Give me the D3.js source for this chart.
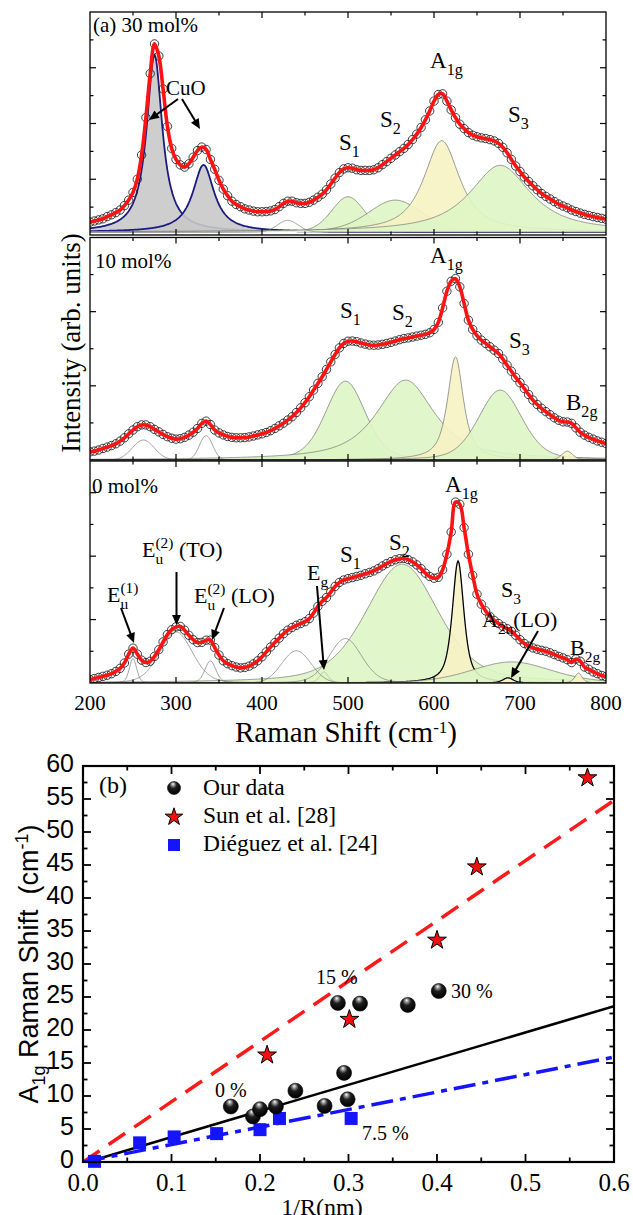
<!DOCTYPE html>
<html><head><meta charset="utf-8">
<script src="https://cdn.jsdelivr.net/npm/d3@7/dist/d3.min.js"></script>
<style>
body{margin:0;background:#fff;}
svg{display:block;}
</style></head><body>
<svg id="chart" width="633" height="1215"></svg>
<script>
// ---------------- DATA ----------------
const ramanShift = d3.range(200, 801, 5);
const ramanTicks = [200, 300, 400, 500, 600, 700, 800];

const int30 = [
 4.5,5.0,5.5,6.0,7.0,7.8,8.8,10,12,14.5,
 18,24,35,52,72,85.5,80,65,48,38,
 33,30.5,29.5,31,34,37,38.6,37.5,33,28.5,
 23.5,19.5,16.5,14,12.5,11.5,10.5,10,9.5,9.2,
 9.2,9.3,9.6,10.2,11.5,13,14,14,13.3,13,
 13,13.5,14.5,15.8,17.2,19.2,21.8,24.5,27,28.7,
 29.2,29,28.3,28,28,28,28.3,29.2,30.6,32,
 33.5,35,36.5,38,39.8,42,44.5,47.5,51,55,
 59.5,62.5,62.8,59.5,55.5,52,49,47,45.2,44,
 43.3,42.8,42.5,42,41.4,40.3,38.5,36,33,30,
 27.5,25,23,21,19.2,17.5,16.2,15,13.8,12.7,
 11.8,11,10,9.3,8.6,8,7.5,7,6.6,6.2,
 5.8];
const int10 = [
 3.7,4.0,4.5,5.2,5.8,6.5,7.3,8.5,10,11.8,
 13.5,15,15.8,15.8,15,13.8,12.7,11.5,10.5,9.8,
 9.4,9.6,10.2,11.2,12.5,14.2,16.5,17.5,16,13.5,
 12.2,11.3,10.6,10.2,10,10,10.1,10.4,10.8,11.3,
 11.8,12.4,13.2,14.2,15.4,16.6,18,19.5,21.4,23.5,
 25.8,28.5,31.5,34.5,37.5,40.8,44.2,47.5,50.5,52.5,
 53.5,53.6,53.3,52.7,52.2,51.8,51.7,51.8,52.1,52.5,
 53,53.6,54.2,54.7,55,55.4,55.8,56.2,56.6,57.3,
 58.8,62,68.5,76,80.5,81.7,78,70.5,63,58.8,
 56,54,52.5,51,49.5,48,45.5,42.7,40,37.2,
 34.8,32.2,29.5,27,25,23.3,21.8,20.4,19,17.9,
 17.2,17.1,16.5,14.5,12.5,11.2,10.2,9.4,8.6,8,
 7.4];
const int0 = [
 1.5,2,2.5,3,3.5,4.2,5.2,6.6,9,13,
 15.7,13,10.3,9.2,9.8,12,15,18.5,21.8,24,
 25.3,25.5,23.8,21.5,19.5,18.2,18.3,19.3,19.3,16,
 12.6,10,8.7,7.8,7.2,6.8,7,7.6,8.6,10,
 11.8,14,16.2,18.2,20.2,22.2,23.8,25,26,26.8,
 27.6,29,31.5,34.5,36.8,38.5,41,43.5,45.3,46.4,
 47,47.5,48,48.5,49.2,49.8,50.5,51.5,52.7,53.8,
 54.7,55.5,56,56.1,55.6,54.6,53.2,51.5,49.5,48,
 47.2,47.6,51,58,68,81.5,80.5,70,58,48.5,
 40,35.5,32.5,30,28.2,26.8,25.5,24.5,23.3,21.5,
 19.5,17.8,16.6,15.8,15.2,14.7,14.3,13.6,12.8,12,
 11.3,10.5,9.2,10.8,9.8,7.2,6.2,5,4.2,3.4,
 2.9];

// fitted components (centre, height, FWHM, Lorentzian fraction, kind)
const peak30Center = [275, 332, 430, 500, 555, 609, 677];
const peak30Height = [80.5, 30.5, 5.3, 16, 14.5, 41.5, 30.3];
const peak30Fwhm   = [22, 30, 28, 45, 75, 50, 85];
const peak30Lor    = [1, 1, 0, 0.2, 0.3, 0.85, 0.9];
const peak30Kind   = ['CuO','CuO','line','S','S','A','S'];

const peak10Center = [262, 335, 497, 567, 625, 677, 755];
const peak10Height = [9, 11, 35.5, 36, 46.5, 31.5, 4];
const peak10Fwhm   = [30, 18, 55, 80, 22, 60, 15];
const peak10Lor    = [0, 0, 0.3, 0.8, 0.8, 0.3, 0.3];
const peak10Kind   = ['line','line','S','S','A','S','A'];

const peak0Center = [250, 300, 340, 440, 472, 497, 563, 628, 690, 686, 768];
const peak0Height = [11, 23, 10, 14.5, 5, 20, 53.5, 55, 9.5, 2.3, 4.5];
const peak0Fwhm   = [10, 45, 15, 40, 12, 45, 100, 16, 110, 15, 10];
const peak0Lor    = [0.3, 0.2, 0.3, 0, 0.6, 0.2, 0.4, 0.7, 0.3, 0.5, 0.5];
const peak0Kind   = ['line','line','line','line','Adark','line','S','Adark','S','Adark','A'];

// panel (b)
const ourX = [0.167, 0.192, 0.2, 0.218, 0.24, 0.273, 0.295, 0.299, 0.288, 0.313, 0.367, 0.402];
const ourY = [8.4, 6.9, 8.0, 8.4, 10.8, 8.5, 13.5, 9.5, 24.1, 24.0, 23.8, 25.9];
const sunX = [0.208, 0.301, 0.400, 0.445, 0.570];
const sunY = [16.2, 21.6, 33.6, 44.7, 58.2];
const diegX = [0.013, 0.064, 0.103, 0.151, 0.2, 0.222, 0.303];
const diegY = [0.1, 2.9, 3.8, 4.3, 4.9, 6.6, 6.6];
const fitX = [0, 0.6];
const sunFitY = [0, 54.8];
const ourFitY = [-0.2, 23.6];
const diegFitY = [0, 15.9];
const bTicksX = [0, 0.1, 0.2, 0.3, 0.4, 0.5, 0.6];
const bTicksY = [0, 5, 10, 15, 20, 25, 30, 35, 40, 45, 50, 55, 60];

// ---------------- DRAW ----------------
const SERIF = '"Liberation Serif","Times New Roman",Times,"DejaVu Serif",serif';
const SANS = '"Liberation Sans",Arial,Helvetica,sans-serif';
const svg = d3.select('#chart').attr('font-family', SERIF).style('font-family', SERIF);
const defs = svg.append('defs');
defs.append('marker').attr('id','arr').attr('viewBox','0 0 10 10')
  .attr('refX',10).attr('refY',5).attr('markerWidth',11).attr('markerHeight',10)
  .attr('markerUnits','userSpaceOnUse').attr('orient','auto')
  .append('path').attr('d','M0,0.5 L10,5 L0,9.5 Z').attr('fill','#000');
const rg = defs.append('radialGradient').attr('id','ball')
  .attr('cx','0.45').attr('cy','0.35').attr('r','0.62').attr('fx','0.42').attr('fy','0.18');
rg.append('stop').attr('offset','0').attr('stop-color','#ffffff');
rg.append('stop').attr('offset','0.18').attr('stop-color','#9a9a9a');
rg.append('stop').attr('offset','0.45').attr('stop-color','#1e1e1e');
rg.append('stop').attr('offset','1').attr('stop-color','#000');

const x = d3.scaleLinear().domain([200, 800]).range([90, 606]);
const panels = [
  {v:int30, c:peak30Center, h:peak30Height, w:peak30Fwhm, l:peak30Lor, k:peak30Kind, top:12, bottom:235, y0:232, y1:12, div:8},
  {v:int10, c:peak10Center, h:peak10Height, w:peak10Fwhm, l:peak10Lor, k:peak10Kind, top:237.5, bottom:460, y0:460, y1:238, div:6},
  {v:int0,  c:peak0Center,  h:peak0Height,  w:peak0Fwhm,  l:peak0Lor,  k:peak0Kind,  top:461, bottom:683, y0:683, y1:461, div:7}
];
const fillOf = {CuO:'#c9c9c9', S:'#def5c4', A:'#f7f3c4', Adark:'#f7f3c4', line:'none'};
const strokeOf = {CuO:'#1c1c80', S:'#707070', A:'#707070', Adark:'#000', line:'#7a7a7a'};
const strokeWOf = {CuO:1.8, S:0.7, A:0.7, Adark:1.3, line:0.7};
function pv(xv, c, h, w, eta) {
  const d = (xv - c) / (w / 2);
  return h * (eta / (1 + d * d) + (1 - eta) * Math.exp(-Math.LN2 * d * d));
}
const grid = d3.range(200, 800.5, 1);

panels.forEach((p, i) => {
  const y = d3.scaleLinear().domain([0, 100]).range([p.y0, p.y1]);
  const cid = 'clip' + i;
  defs.append('clipPath').attr('id', cid).append('rect')
    .attr('x', 90).attr('y', p.top).attr('width', 516).attr('height', p.bottom - p.top);
  const g = svg.append('g').attr('clip-path', `url(#${cid})`);
  const order = p.c.map((_, j) => j).sort((a, b) => (p.k[a] === 'line') - (p.k[b] === 'line') || a - b);
  order.forEach(j => {
    const pts = grid.map(xv => [xv, pv(xv, p.c[j], p.h[j], p.w[j], p.l[j])]);
    const kind = p.k[j];
    if (kind !== 'line') {
      g.append('path').datum(pts)
        .attr('d', d3.area().x(d => x(d[0])).y0(y(0)).y1(d => y(d[1])))
        .attr('fill', fillOf[kind]).attr('fill-opacity', 0.9);
    }
    g.append('path').datum(pts)
      .attr('d', d3.line().x(d => x(d[0])).y(d => y(d[1])))
      .attr('fill', 'none').attr('stroke', strokeOf[kind]).attr('stroke-width', strokeWOf[kind]);
  });
  g.append('g').selectAll('circle').data(p.v).join('circle')
    .attr('cx', (d, k) => x(ramanShift[k])).attr('cy', d => y(d)).attr('r', 4.2)
    .attr('fill', 'none').attr('stroke', '#1e1e1e').attr('stroke-width', 0.85);
  g.append('path').datum(p.v)
    .attr('d', d3.line().x((d, k) => x(ramanShift[k])).y(d => y(d)).curve(d3.curveCatmullRom))
    .attr('fill', 'none').attr('stroke', '#ff1212').attr('stroke-width', 3.6);

  // frame + ticks
  svg.append('rect').attr('x', 90).attr('y', p.top).attr('width', 516).attr('height', p.bottom - p.top)
    .attr('fill', 'none').attr('stroke', '#000').attr('stroke-width', 1.3);
  const tg = svg.append('g').attr('stroke', '#000').attr('stroke-width', 1.2);
  d3.range(250, 800, 50).forEach(t => {
    const len = t % 100 === 0 ? 6 : 3.5;
    tg.append('line').attr('x1', x(t)).attr('x2', x(t)).attr('y1', p.bottom).attr('y2', p.bottom - len);
    tg.append('line').attr('x1', x(t)).attr('x2', x(t)).attr('y1', p.top).attr('y2', p.top + len);
  });
  const yt = d3.scaleLinear().domain([0, p.div]).range([p.bottom, p.top]);
  d3.range(1, p.div).forEach(t => {
    const len = t % 2 === 0 ? 6 : 3.5;
    tg.append('line').attr('x1', 90).attr('x2', 90 + len).attr('y1', yt(t)).attr('y2', yt(t));
    tg.append('line').attr('x1', 606).attr('x2', 606 - len).attr('y1', yt(t)).attr('y2', yt(t));
  });
});

// x tick labels (a)
svg.append('g').selectAll('text').data(ramanTicks).join('text')
  .attr('x', d => x(d)).attr('y', 710).attr('text-anchor', 'middle').attr('font-size', 21).text(d => d);
// axis titles (a)
const xt = svg.append('text').attr('x', 346).attr('y', 742).attr('text-anchor', 'middle').attr('font-size', 29);
xt.append('tspan').text('Raman Shift (cm');
xt.append('tspan').attr('font-size', 17).attr('dy', -9).text('-1');
xt.append('tspan').attr('dy', 9).text(')');
svg.append('text').attr('transform', 'translate(80,343) rotate(-90)').attr('text-anchor', 'middle')
  .attr('font-size', 27).text('Intensity (arb. units)');

// rich labels
function richText(x0, y0, segs, fs) {
  const g = svg.append('g');
  let cx = x0;
  const small = fs * 0.7;
  segs.forEach(s => {
    if (typeof s === 'string') {
      const t = g.append('text').attr('x', cx).attr('y', y0).attr('font-size', fs).text(s);
      cx += t.node().getComputedTextLength();
    } else {
      let w = 0;
      if (s.sub != null) {
        const t = g.append('text').attr('x', cx).attr('y', y0 + fs * 0.3).attr('font-size', small).text(s.sub);
        w = Math.max(w, t.node().getComputedTextLength());
      }
      if (s.sup != null) {
        const t = g.append('text').attr('x', cx).attr('y', y0 - fs * 0.42).attr('font-size', small).text(s.sup);
        w = Math.max(w, t.node().getComputedTextLength());
      }
      cx += w;
    }
  });
}
function arrow(x1, y1, x2, y2) {
  const dx = x2 - x1, dy = y2 - y1, L = Math.hypot(dx, dy);
  svg.append('line').attr('x1', x1).attr('y1', y1)
    .attr('x2', x2 - dx / L * 6).attr('y2', y2 - dy / L * 6)
    .attr('stroke', '#000').attr('stroke-width', 2);
  svg.append('line').attr('x1', x2 - dx / L * 7).attr('y1', y2 - dy / L * 7).attr('x2', x2).attr('y2', y2)
    .attr('stroke', 'none').attr('marker-end', 'url(#arr)');
}

// top panel
richText(93, 32, ['(a) 30 mol%'], 21);
richText(166, 95, ['CuO'], 21);
arrow(178, 99, 149, 120);
arrow(182, 99, 200, 129);
richText(339, 150, ['S', {sub: '1'}], 23);
richText(380, 127, ['S', {sub: '2'}], 23);
richText(430, 68, ['A', {sub: '1g'}], 23);
richText(508, 122, ['S', {sub: '3'}], 23);
// middle panel
richText(95, 268, ['10 mol%'], 21);
richText(340, 318, ['S', {sub: '1'}], 23);
richText(392, 320, ['S', {sub: '2'}], 23);
richText(430, 263, ['A', {sub: '1g'}], 23);
richText(509, 348, ['S', {sub: '3'}], 23);
richText(566, 410, ['B', {sub: '2g'}], 23);
// bottom panel
richText(92, 493, ['0 mol%'], 21);
richText(445, 492, ['A', {sub: '1g'}], 23);
richText(389, 550, ['S', {sub: '2'}], 23);
richText(340, 562, ['S', {sub: '1'}], 23);
richText(142, 557, ['E', {sub: 'u', sup: '(2)'}, '\u00a0(TO)'], 22);
richText(107, 602, ['E', {sub: 'u', sup: '(1)'}], 22);
richText(194, 603, ['E', {sub: 'u', sup: '(2)'}, '\u00a0(LO)'], 22);
richText(307, 580, ['E', {sub: 'g'}], 22);
richText(501, 597, ['S', {sub: '3'}], 22);
richText(482, 627, ['A', {sub: '2u'}, '(LO)'], 22);
richText(570, 655, ['B', {sub: '2g'}], 22);
arrow(121, 608, 134, 643);
arrow(176.5, 572, 176.5, 625);
arrow(224, 608, 212, 640);
arrow(317, 586, 324, 670);
arrow(538, 631, 511, 678);

// ---------------- PANEL (b) ----------------
const xb = d3.scaleLinear().domain([0, 0.6]).range([83, 614]);
const yb = d3.scaleLinear().domain([0, 60]).range([1162, 766]);
defs.append('clipPath').attr('id', 'clipb').append('rect')
  .attr('x', 83).attr('y', 766).attr('width', 531).attr('height', 396);
const gb = svg.append('g').attr('clip-path', 'url(#clipb)');
const fitLine = d3.line().x((d, k) => xb(fitX[k])).y(d => yb(d));
gb.append('path').datum(sunFitY).attr('d', fitLine).attr('fill', 'none')
  .attr('stroke', '#ff1a1a').attr('stroke-width', 3.5).attr('stroke-dasharray', '20,11');
gb.append('path').datum(ourFitY).attr('d', fitLine).attr('fill', 'none')
  .attr('stroke', '#000').attr('stroke-width', 2.6);
gb.append('path').datum(diegFitY).attr('d', fitLine).attr('fill', 'none')
  .attr('stroke', '#1414ff').attr('stroke-width', 3.5).attr('stroke-dasharray', '22,7,6,7');

const mk = svg.append('g');
mk.selectAll('rect.sq').data(diegX).join('rect').attr('class', 'sq')
  .attr('x', (d) => xb(d) - 6.5).attr('y', (d, k) => yb(diegY[k]) - 6.5)
  .attr('width', 13).attr('height', 13).attr('fill', '#1414ff');
mk.selectAll('circle.ball').data(ourX).join('circle').attr('class', 'ball')
  .attr('cx', d => xb(d)).attr('cy', (d, k) => yb(ourY[k])).attr('r', 7.5)
  .attr('fill', 'url(#ball)').attr('stroke', '#000').attr('stroke-width', 0.6);
const star = d3.symbol().type(d3.symbolStar).size(110);
mk.selectAll('path.star').data(sunX).join('path').attr('class', 'star')
  .attr('transform', (d, k) => `translate(${xb(d)},${yb(sunY[k])})`)
  .attr('d', star).attr('fill', '#f21010').attr('stroke', '#000').attr('stroke-width', 1);

// frame and ticks (b)
svg.append('rect').attr('x', 83).attr('y', 766).attr('width', 531).attr('height', 396)
  .attr('fill', 'none').attr('stroke', '#000').attr('stroke-width', 2.2);
const tb = svg.append('g').attr('stroke', '#000').attr('stroke-width', 1.8);
d3.range(1, 12).forEach(i => {
  const v = i * 0.05, len = i % 2 === 0 ? 8 : 4.5;
  tb.append('line').attr('x1', xb(v)).attr('x2', xb(v)).attr('y1', 1162).attr('y2', 1162 - len);
  tb.append('line').attr('x1', xb(v)).attr('x2', xb(v)).attr('y1', 766).attr('y2', 766 + len);
});
d3.range(1, 24).forEach(i => {
  const v = i * 2.5, len = i % 2 === 0 ? 8 : 4.5;
  tb.append('line').attr('x1', 83).attr('x2', 83 + len).attr('y1', yb(v)).attr('y2', yb(v));
  tb.append('line').attr('x1', 614).attr('x2', 614 - len).attr('y1', yb(v)).attr('y2', yb(v));
});
svg.append('g').selectAll('text').data(bTicksX).join('text')
  .attr('x', d => xb(d)).attr('y', 1191).attr('text-anchor', 'middle').attr('font-size', 25)
  .text(d => d3.format('.1f')(d));
svg.append('g').selectAll('text').data(bTicksY).join('text')
  .attr('x', 74).attr('y', d => yb(d) - 3).attr('text-anchor', 'end').attr('dominant-baseline', 'central')
  .attr('font-family', SANS).style('font-family', SANS).attr('font-size', 25).text(d => d);
svg.append('text').attr('x', 322).attr('y', 1215).attr('text-anchor', 'middle').attr('font-size', 24).text('1/R(nm)');
const yt2 = svg.append('text').attr('transform', 'translate(38,964) rotate(-90)').attr('text-anchor', 'middle')
  .attr('font-family', SANS).style('font-family', SANS).attr('font-size', 27);
yt2.append('tspan').text('A');
yt2.append('tspan').attr('font-size', 18).attr('dy', 7).text('1g');
yt2.append('tspan').attr('dy', -7).text(' Raman Shift \u00a0(cm');
yt2.append('tspan').attr('font-size', 18).attr('dy', -10).text('-1');
yt2.append('tspan').attr('dy', 10).text(')');

// legend (b)
svg.append('text').attr('x', 99).attr('y', 793).attr('font-size', 24).text('(b)');
svg.append('circle').attr('cx', 174).attr('cy', 788).attr('r', 6.5)
  .attr('fill', 'url(#ball)').attr('stroke', '#000').attr('stroke-width', 0.6);
svg.append('path').attr('transform', 'translate(174,817)').attr('d', d3.symbol().type(d3.symbolStar).size(95))
  .attr('fill', '#f21010').attr('stroke', '#000').attr('stroke-width', 1);
svg.append('rect').attr('x', 168).attr('y', 839).attr('width', 12).attr('height', 12).attr('fill', '#1414ff');
svg.append('text').attr('x', 203).attr('y', 795).attr('font-size', 23.5).text('Our data');
svg.append('text').attr('x', 203).attr('y', 823).attr('font-size', 23.5).text('Sun et al. [28]');
svg.append('text').attr('x', 203).attr('y', 851).attr('font-size', 23.5).text('Diéguez et al. [24]');
// percent annotations
svg.append('text').attr('x', 316).attr('y', 984).attr('font-size', 20).text('15 %');
svg.append('text').attr('x', 451).attr('y', 998).attr('font-size', 20).text('30 %');
svg.append('text').attr('x', 215).attr('y', 1097).attr('font-size', 20).text('0 %');
svg.append('text').attr('x', 362).attr('y', 1140).attr('font-size', 20).text('7.5 %');
</script>
</body></html>
